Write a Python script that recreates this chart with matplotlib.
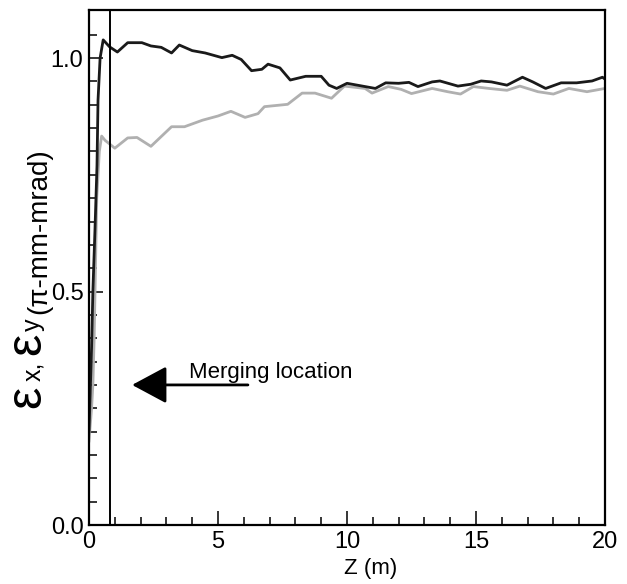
import numpy as np
import matplotlib.pyplot as plt

plt.rcParams['font.family'] = ['Liberation Sans', 'DejaVu Sans']

# emittance x (black)
zx = [0, 0.1, 0.15, 0.23, 0.31, 0.35, 0.43, 0.55, 0.8, 1.1, 1.5, 2.05, 2.4, 2.8,
      3.2, 3.5, 4.0, 4.5, 5.15, 5.55, 5.9, 6.3, 6.7, 6.94, 7.4, 7.8, 8.4, 9.0,
      9.3, 9.6, 10.0, 10.6, 11.1, 11.5, 12.0, 12.4, 12.75, 13.3, 13.6, 14.3,
      14.8, 15.2, 15.6, 16.2, 16.8, 17.2, 17.7, 18.3, 18.9, 19.5, 19.9, 20.0]
ex = [0.2, 0.38, 0.5, 0.63, 0.77, 0.91, 1.0, 1.039, 1.024, 1.013, 1.033, 1.033,
      1.026, 1.023, 1.011, 1.028, 1.016, 1.011, 1.001, 1.006, 0.997, 0.973,
      0.976, 0.987, 0.979, 0.953, 0.961, 0.961, 0.942, 0.935, 0.946, 0.940,
      0.935, 0.947, 0.946, 0.948, 0.939, 0.949, 0.951, 0.940, 0.944, 0.951,
      0.949, 0.942, 0.959, 0.949, 0.935, 0.947, 0.947, 0.951, 0.959, 0.955]

# emittance y (gray)
zy = [0, 0.1, 0.15, 0.2, 0.25, 0.3, 0.4, 0.49, 0.62, 1.0, 1.5, 1.86, 2.4, 2.8,
      3.2, 3.7, 4.4, 5.0, 5.5, 6.05, 6.55, 6.8, 7.7, 8.26, 8.76, 9.4, 9.9,
      10.7, 10.97, 11.6, 12.1, 12.5, 13.3, 13.9, 14.4, 14.9, 15.5, 16.2, 16.7,
      17.4, 18.0, 18.6, 19.3, 20.0]
ey = [0.18, 0.25, 0.3, 0.4, 0.55, 0.7, 0.8, 0.833, 0.824, 0.807, 0.829, 0.830,
      0.811, 0.832, 0.853, 0.853, 0.867, 0.876, 0.886, 0.873, 0.881, 0.896,
      0.901, 0.925, 0.925, 0.914, 0.940, 0.935, 0.925, 0.939, 0.933, 0.924,
      0.935, 0.928, 0.923, 0.939, 0.935, 0.931, 0.940, 0.928, 0.923, 0.935,
      0.928, 0.935]

z_merge = 0.8

fig = plt.figure(figsize=(6.27, 5.84), dpi=100)
ax = fig.add_axes([89/627, 1 - 525/584, 516/627, 515/584])

ax.plot(zy, ey, color='#b0b0b0', lw=2.0)
ax.plot(zx, ex, color='#1a1a1a', lw=2.0)
ax.axvline(z_merge, color='black', lw=1.4)

ax.set_xlim(0, 20)
ax.set_ylim(0, 1.103)
ax.set_xticks([0, 5, 10, 15, 20])
ax.set_xticks(np.arange(0, 21, 1), minor=True)
ax.set_yticks([0.0, 0.5, 1.0])
ax.set_yticks(np.arange(0, 1.1, 0.05), minor=True)
ax.set_yticklabels(['0.0', '0.5', '1.0'])
ax.tick_params(which='both', direction='in', labelsize=17, width=1.1,
               top=False, right=False, pad=4)
ax.tick_params(which='major', length=10)
ax.tick_params(which='minor', length=6)
for s in ax.spines.values():
    s.set_linewidth(1.6)

ax.set_xlabel('Z (m)', fontsize=16)
ax.xaxis.set_label_coords(0.545, -0.065)

# arrow + label
ax.annotate('', xy=(1.67, 0.30), xytext=(6.16, 0.30),
            arrowprops=dict(arrowstyle='-|>,head_length=1.08,head_width=0.58',
                            mutation_scale=20, lw=2, color='black',
                            shrinkA=0, shrinkB=0))
ax.text(3.87, 0.315, 'Merging location', fontsize=16, ha='left', va='baseline')

# y label built from pieces
def ylab(s, xpx, ypx, size):
    fig.text(xpx/627, 1 - ypx/584, s, rotation=90, rotation_mode='anchor',
             ha='left', va='baseline', fontsize=size)

ylab('\u03b5', 40, 408, 36)
ylab('x,', 40, 381, 18)
ylab('\u03b5', 40, 355, 36)
ylab('y', 40, 331, 18)
ylab('(\u03c0-mm-mrad)', 46, 314, 20)

fig.savefig('out.png', dpi=100)
